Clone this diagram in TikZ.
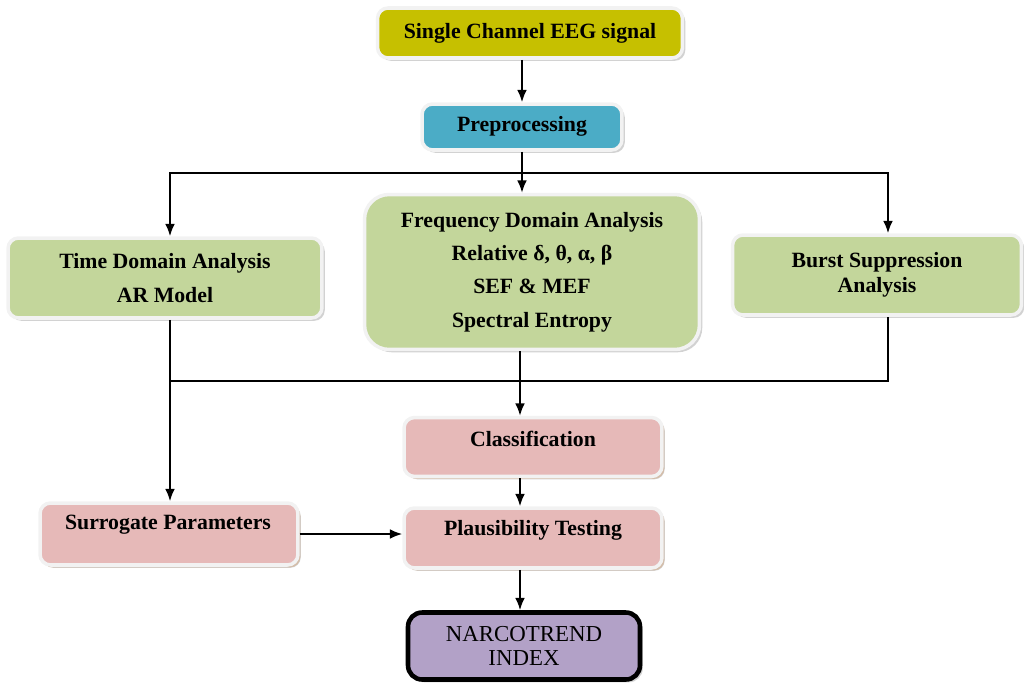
\documentclass[tikz,border=0pt]{standalone}
\usepackage{fontspec}
\setmainfont{Liberation Serif}
\usetikzlibrary{shadows,arrows.meta}
\definecolor{olivebox}{RGB}{198,192,0}
\definecolor{bluebox}{RGB}{75,172,198}
\definecolor{greenbox}{RGB}{195,214,155}
\definecolor{pinkbox}{RGB}{230,185,184}
\definecolor{lilacbox}{RGB}{178,161,199}
\definecolor{tanshade}{RGB}{214,170,130}
\tikzset{
  box/.style={rectangle, rounded corners=6pt, draw=black!5, line width=2pt,
    align=center, font=\bfseries\fontsize{12.4}{14}\selectfont,
    drop shadow={shadow xshift=1.6pt, shadow yshift=-1.6pt, fill=black!35}},
  pbox/.style={box, fill=pinkbox,
    drop shadow={shadow xshift=1.4pt, shadow yshift=-1.4pt, fill=tanshade}},
  txt/.style={font=\bfseries\fontsize{12.4}{14}\selectfont, align=center},
  arr/.style={-{Latex[length=7pt,width=5.5pt]}, line width=1pt},
  ln/.style={line width=1pt}
}
\begin{document}
\begin{tikzpicture}[x=0.02cm,y=-0.02cm]
    \useasboundingbox (0,0) rectangle (1024,683);
    \node[box, fill=olivebox, minimum width=6.1cm, minimum height=1cm] (sig) at (530,33) {\raisebox{2pt}{Single Channel EEG signal}};
    \node[box, fill=bluebox, minimum width=4cm, minimum height=.92cm] (pre) at (522,127) {\raisebox{3pt}{Preprocessing}};
    \node[box, fill=greenbox, minimum width=6.28cm, minimum height=1.6cm] (tda) at (165,278)
      {Time Domain Analysis\\[5pt] AR Model};
    \node[box, fill=greenbox, rounded corners=14pt, minimum width=6.7cm, minimum height=3.1cm] (fda) at (532,272)
      {Frequency Domain Analysis\\[5pt] Relative δ, θ, α, β\\[5pt] SEF \& MEF\\[5pt] Spectral Entropy};
    \node[box, fill=greenbox, minimum width=5.78cm, minimum height=1.6cm] (bsa) at (877,275)
      {\raisebox{3pt}{Burst Suppression}\\ \raisebox{3pt}{Analysis}};
    \node[pbox, minimum width=5.16cm, minimum height=1.18cm] (cls) at (533,447) {};
    \node[txt] at (533,439) {Classification};
    \node[pbox, minimum width=5.16cm, minimum height=1.24cm] (sur) at (169,534) {};
    \node[txt] at (168,525) {Surrogate Parameters};
    \node[pbox, minimum width=5.16cm, minimum height=1.2cm] (pla) at (533,538) {};
    \node[txt] at (533,530) {Plausibility Testing};
    \node[box, fill=lilacbox, draw=black, line width=2.6pt, rounded corners=8pt, font=\fontsize{13}{14}\selectfont,
      minimum width=4.64cm, minimum height=1.34cm] (nar) at (524,646) {NARCOTREND\\ INDEX};
    % branch points
    \coordinate (top) at (522,173);
    \coordinate (tl) at (170,173);
    \coordinate (tr) at (888,173);
    \coordinate (bot) at (520,381);
    \coordinate (bl) at (170,381);
    \coordinate (br) at (888,381);
    \draw[arr] (sig.south -| pre.north) -- (pre.north);
    \draw[ln] (pre.south -| top) -- (top);
    \draw[arr] (top) -- (top |- fda.north);
    \draw[arr] (top) -- (tl) -- (tl |- tda.north);
    \draw[arr] (top) -- (tr) -- (tr |- bsa.north);
    \draw[arr] (tl |- tda.south) -- (tl |- sur.north);
    \draw[ln] (bl) -- (br) -- (br |- bsa.south);
    \draw[arr] (bot |- fda.south) -- (bot |- cls.north);
    \draw[arr] (bot |- cls.south) -- (bot |- pla.north);
    \draw[arr] (sur.east) -- (sur.east -| pla.west);
    \draw[arr] (bot |- pla.south) -- (bot |- nar.north);
  \end{tikzpicture}
\end{document}
